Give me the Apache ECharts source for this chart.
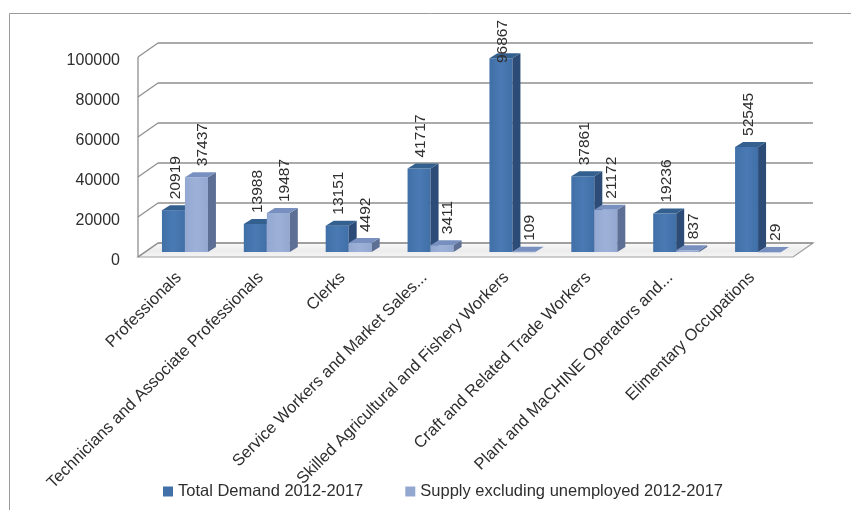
<!DOCTYPE html>
<html>
<head>
<meta charset="utf-8">
<script src="https://cdn.jsdelivr.net/npm/echarts@6/dist/echarts.min.js"></script>
<style>
  html, body { margin: 0; padding: 0; background: #ffffff; }
  #chart { width: 851px; height: 510px; }
</style>
</head>
<body>
<div id="chart"></div>
<script>
// Occupational groups and their demand / supply, 2012-2017
const categories = [
  'Professionals',
  'Technicians and Associate Professionals',
  'Clerks',
  'Service Workers and Market Sales...',
  'Skilled Agricultural and Fishery Workers',
  'Craft and Related Trade Workers',
  'Plant and MaCHINE Operators and...',
  'Elimentary Occupations'
];
const totalDemand = [20919, 13988, 13151, 41717, 96867, 37861, 19236, 52545];
const supplyExclUnemployed = [37437, 19487, 4492, 3411, 109, 21172, 837, 29];
const yTicks = [0, 20000, 40000, 60000, 80000, 100000];
const seriesNames = ['Total Demand 2012-2017', 'Supply excluding unemployed 2012-2017'];

// 3D look: depth offsets of the back wall and of the bars
const WALL_DX = 20, WALL_DY = -14;
const BAR_DX = 6, BAR_DY = -5;     // bars stand a little behind the front plane
const BAR_W = 23;                  // front face width of one bar
const SIDE_DX = 8, SIDE_DY = -5;   // bar depth
const GRID_COLOR = '#8f8f8f';
const FONT = '"Liberation Sans", Arial, sans-serif';
const TEXT_COLOR = '#2e2e2e';

const palette = [
  { front: '#4170a8', frontLight: '#4a7ab3', side: '#2c4c77', top: '#34608f' },
  { front: '#93a8d1', frontLight: '#9db1d8', side: '#5d6f94', top: '#7890bf' }
];

const measureCtx = document.createElement('canvas').getContext('2d');
function textWidth(str, size) {
  measureCtx.font = size + 'px ' + FONT;
  return measureCtx.measureText(str).width;
}

function renderFloor(params, api) {
  const cs = params.coordSys;
  const y0 = api.coord([0, 0])[1];
  const xl = cs.x, xr = cs.x + cs.width;
  return {
    type: 'polygon',
    shape: { points: [[xl, y0], [xr, y0], [xr + WALL_DX, y0 + WALL_DY], [xl + WALL_DX, y0 + WALL_DY]] },
    style: {
      fill: new echarts.graphic.LinearGradient(0, 0, 0, 1, [
        { offset: 0, color: '#fbfbfb' },
        { offset: 0.55, color: '#ececec' },
        { offset: 1, color: '#f6f6f6' }
      ]),
      stroke: '#a0a0a0',
      lineWidth: 1.2
    }
  };
}

function renderWalls(params, api) {
  const cs = params.coordSys;
  const y = api.coord([0, api.value(1)])[1];
  const xl = cs.x, xr = cs.x + cs.width;
  const lineStyle = { stroke: GRID_COLOR, lineWidth: 1.3 };
  const children = [
    { type: 'line', shape: { x1: xl, y1: y, x2: xl + WALL_DX, y2: y + WALL_DY }, style: lineStyle },
    { type: 'line', shape: { x1: xl + WALL_DX, y1: y + WALL_DY, x2: xr + WALL_DX, y2: y + WALL_DY }, style: lineStyle }
  ];
  if (params.dataIndex === 0) {
    // front vertical edge of the side wall
    children.push({
      type: 'line',
      shape: { x1: xl, y1: api.coord([0, yTicks[yTicks.length - 1]])[1], x2: xl, y2: y },
      style: lineStyle
    });
  }
  return { type: 'group', children: children };
}

function makeBarRenderer(seriesIdx) {
  const c = palette[seriesIdx];
  return function (params, api) {
    const cs = params.coordSys;
    const i = api.value(0);
    const v = api.value(1);
    const base = api.coord([i, 0]);
    const top = api.coord([i, v]);
    const cx = base[0] + BAR_DX;
    const x0 = seriesIdx === 0 ? cx - BAR_W : cx;
    const x1 = x0 + BAR_W;
    const yb = base[1] + BAR_DY;
    const yt = top[1] + BAR_DY;

    const label = String(v);
    const fs = 15.5;
    const len = textWidth(label, fs);
    // keep the value label inside the chart frame
    const labelBottom = Math.max(yt - 11, cs.y - 37 + len);
    const labelX = (x0 + x1) / 2 + (seriesIdx === 0 ? 2 : 6);

    return {
      type: 'group',
      children: [
        {
          type: 'rect',
          shape: { x: x0, y: yt, width: BAR_W, height: Math.max(yb - yt, 0.5) },
          style: {
            fill: new echarts.graphic.LinearGradient(0, 0, 1, 0, [
              { offset: 0, color: c.front },
              { offset: 0.5, color: c.frontLight },
              { offset: 1, color: c.front }
            ])
          }
        },
        {
          type: 'polygon',
          shape: { points: [[x1, yb], [x1 + SIDE_DX, yb + SIDE_DY], [x1 + SIDE_DX, yt + SIDE_DY], [x1, yt]] },
          style: { fill: c.side }
        },
        {
          type: 'polygon',
          shape: { points: [[x0, yt], [x1, yt], [x1 + SIDE_DX, yt + SIDE_DY], [x0 + SIDE_DX, yt + SIDE_DY]] },
          style: { fill: c.top }
        },
        {
          type: 'text',
          x: labelX,
          y: labelBottom,
          rotation: Math.PI / 2,
          style: {
            text: label,
            x: 0, y: 0,
            align: 'left',
            verticalAlign: 'middle',
            fontSize: fs,
            fontFamily: FONT,
            fill: TEXT_COLOR
          }
        }
      ]
    };
  };
}

const chart = echarts.init(document.getElementById('chart'), null, { renderer: 'canvas' });

chart.setOption({
  animation: false,
  backgroundColor: '#ffffff',
  grid: { left: 138, right: 58, top: 57, bottom: 253, containLabel: false },
  xAxis: {
    type: 'category',
    data: categories,
    axisLine: { show: false },
    axisTick: { show: false },
    splitLine: { show: false },
    axisLabel: {
      interval: 0,
      rotate: 45,
      margin: 18,
      fontSize: 16.5,
      fontFamily: FONT,
      color: TEXT_COLOR
    }
  },
  yAxis: {
    type: 'value',
    min: 0,
    max: 100000,
    interval: 20000,
    axisLine: { show: false },
    axisTick: { show: false },
    splitLine: { show: false },
    axisLabel: {
      margin: 18,
      fontSize: 16,
      fontFamily: FONT,
      color: TEXT_COLOR,
      formatter: v => '{v|' + v + '}',
      rich: {
        v: { fontSize: 16, fontFamily: FONT, color: TEXT_COLOR, padding: [8, 0, 0, 0] }
      }
    }
  },
  legend: {
    data: seriesNames,
    left: 158,
    top: 478,
    icon: 'rect',
    itemWidth: 10,
    itemHeight: 10,
    itemGap: 42,
    textStyle: { fontSize: 16.5, fontFamily: FONT, color: TEXT_COLOR }
  },
  graphic: [
    {
      type: 'polyline',
      shape: { points: [[9.5, 510], [9.5, 13.5], [851, 13.5]] },
      style: { stroke: '#9a9a9a', fill: null, lineWidth: 1 },
      silent: true
    }
  ],
  series: [
    {
      type: 'custom',
      name: 'floor',
      renderItem: renderFloor,
      data: [[0, 0]],
      silent: true,
      z: 1
    },
    {
      type: 'custom',
      name: 'walls',
      renderItem: renderWalls,
      data: yTicks.map(t => [0, t]),
      silent: true,
      z: 2
    },
    {
      type: 'custom',
      name: seriesNames[0],
      renderItem: makeBarRenderer(0),
      itemStyle: { color: palette[0].front },
      data: totalDemand.map((v, i) => [i, v]),
      z: 3
    },
    {
      type: 'custom',
      name: seriesNames[1],
      renderItem: makeBarRenderer(1),
      itemStyle: { color: palette[1].front },
      data: supplyExclUnemployed.map((v, i) => [i, v]),
      z: 4
    }
  ]
});
</script>
</body>
</html>
